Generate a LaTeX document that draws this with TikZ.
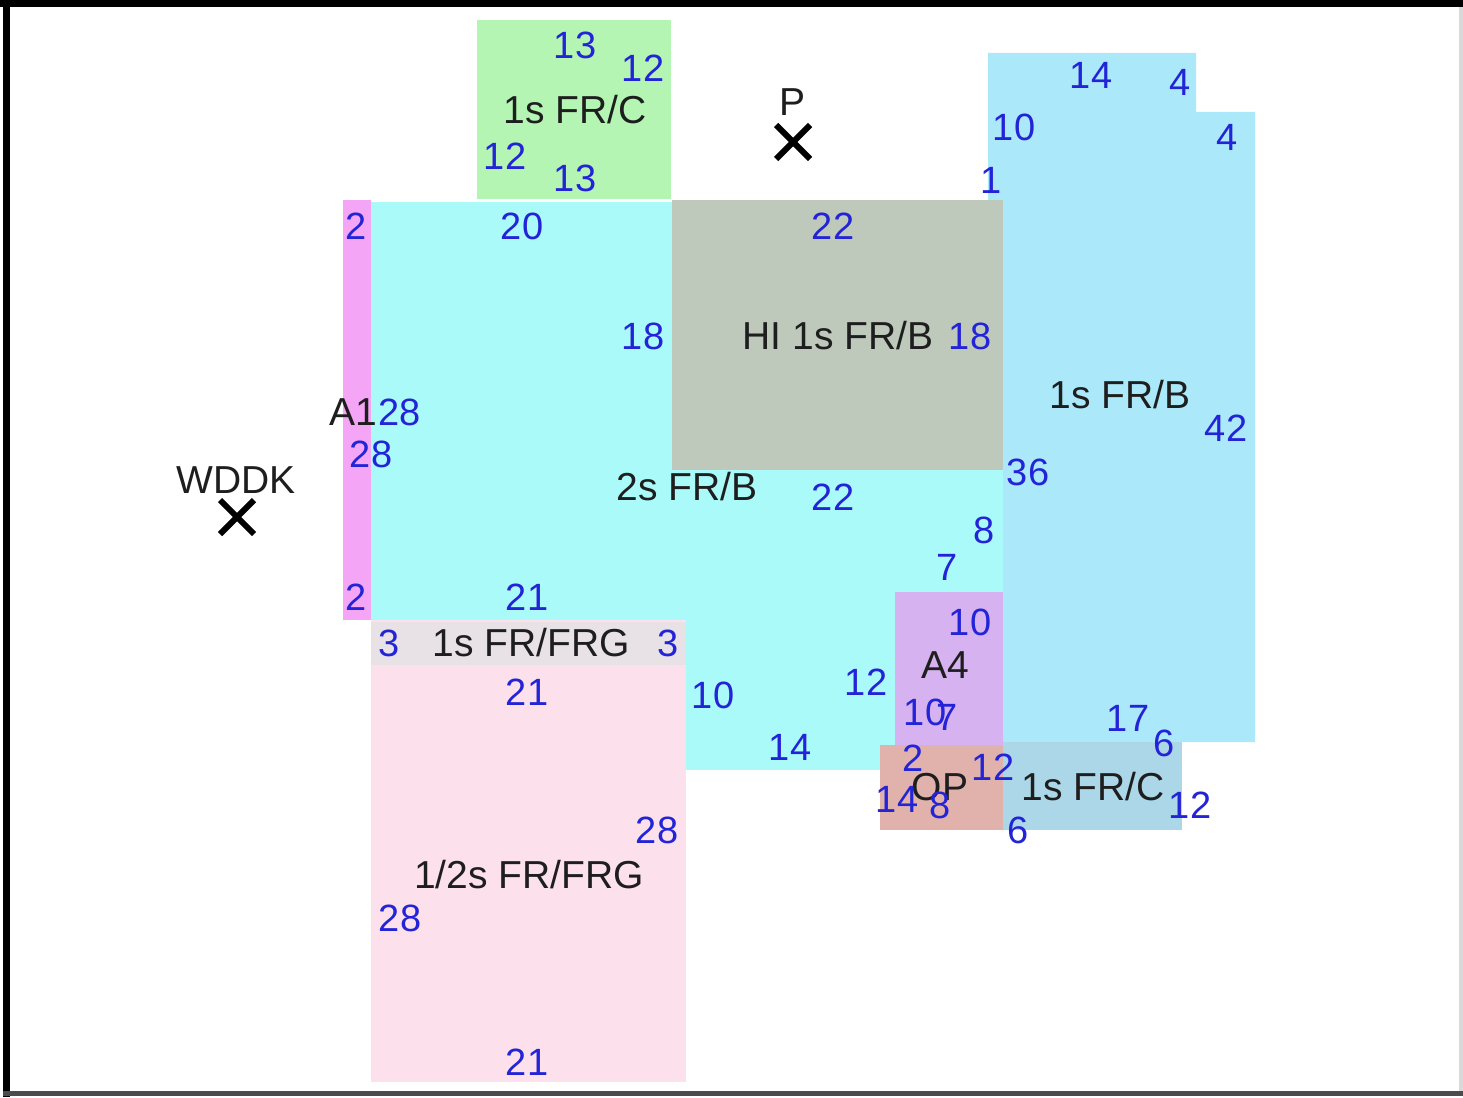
\documentclass[tikz,border=0pt]{standalone}
\usepackage{fontspec}
\setmainfont{Liberation Sans}
\definecolor{cGreen}{RGB}{180,245,180}
\definecolor{cCyan}{RGB}{170,250,250}
\definecolor{cBlue}{RGB}{170,232,250}
\definecolor{cHI}{RGB}{190,201,188}
\definecolor{cMag}{RGB}{245,165,245}
\definecolor{cStrip}{RGB}{232,226,230}
\definecolor{cPink}{RGB}{252,225,236}
\definecolor{cAfour}{RGB}{215,178,240}
\definecolor{cOP}{RGB}{225,178,172}
\definecolor{cFRC}{RGB}{172,215,232}
\definecolor{numc}{RGB}{35,35,215}
\definecolor{txtc}{RGB}{30,30,30}
\begin{document}
\begin{tikzpicture}[x=1pt,y=-1pt,
  num/.style={text=numc,inner sep=0pt,font=\fontsize{38}{40}\selectfont},
  lbl/.style={text=txtc,inner sep=0pt,font=\fontsize{39}{41}\selectfont},
  xmark/.style={line width=6pt,black}]
\useasboundingbox (0,0) rectangle (1463,1097);
\fill[white] (0,0) rectangle (1463,1097);
% frame
\fill[black] (0,0) rectangle (1463,7);
\fill[black] (3,0) rectangle (10,1097);
\fill[black!70] (3,1091) rectangle (1463,1096);
\fill[black!15] (1459,7) rectangle (1463,1091);
% areas
\fill[cCyan] (371,202) rectangle (1003,770);
\fill[cGreen] (477,20) rectangle (671,199);
\fill[cBlue] (988,53) -- (1196,53) -- (1196,112) -- (1255,112) -- (1255,742) -- (1003,742) -- (1003,200) -- (988,200) -- cycle;
\fill[cHI] (672,200) rectangle (1003,470);
\fill[cMag] (343,200) rectangle (371,620);
\fill[cPink] (371,620) rectangle (686,1082);
\fill[cStrip] (371,622) rectangle (686,665);
\fill[cAfour] (895,592) rectangle (1003,745);
\fill[cOP] (880,745) rectangle (1003,830);
\fill[cFRC] (1003,742) rectangle (1182,830);
% crosses
\coordinate (pc) at (793,142);
\coordinate (wc) at (237,517);
\draw[xmark] ([shift={(-17,-17)}]pc) -- ([shift={(17,17)}]pc);
\draw[xmark] ([shift={(-17,17)}]pc) -- ([shift={(17,-17)}]pc);
\draw[xmark] ([shift={(-17,-17)}]wc) -- ([shift={(17,17)}]wc);
\draw[xmark] ([shift={(-17,17)}]wc) -- ([shift={(17,-17)}]wc);
\node[lbl] (tp) at (792,102) {P};
\node[lbl] (twddk) at (236,480) {WDDK};
% green 1s FR/C
\node[lbl] (tfrc1) at (575,110) {1s FR/C};
\node[num] (n1) at (575,45) {13};
\node[num] (n2) at (643,68) {12};
\node[num] (n3) at (505,156) {12};
\node[num] (n4) at (575,178) {13};
% 2s FR/B
\node[lbl] (t2s) at (687,487) {2s FR/B};
\node[num] (n5) at (522,226) {20};
\node[num] (n6) at (643,336) {18};
\node[num] (n7) at (833,497) {22};
\node[num] (n8) at (984,530) {8};
\node[num] (n9) at (947,567) {7};
\node[num] (n10) at (527,597) {21};
\node[num] (n11) at (713,695) {10};
\node[num] (n12) at (866,682) {12};
\node[num] (n13) at (790,747) {14};
% HI
\node[lbl] (thi) at (838,336) {HI 1s FR/B};
\node[num] (n14) at (833,226) {22};
\node[num] (n15) at (970,336) {18};
% A1
\node[lbl,anchor=east] (ta1) at (377,412) {A1};
\node[num,anchor=west] (n17) at (378,412) {28};
\node[num] (n16) at (356,226) {2};
\node[num] (n18) at (371,454) {28};
\node[num] (n19) at (356,597) {2};
% right 1s FR/B
\node[lbl] (tfrb) at (1120,395) {1s FR/B};
\node[num] (n20) at (1091,75) {14};
\node[num] (n21) at (1180,82) {4};
\node[num] (n22) at (1014,127) {10};
\node[num] (n23) at (1227,137) {4};
\node[num] (n24) at (991,180) {1};
\node[num] (n25) at (1226,428) {42};
\node[num] (n26) at (1028,472) {36};
\node[num] (n27) at (1128,718) {17};
\node[num] (n28) at (1164,743) {6};
% 1s FR/FRG
\node[lbl] (tfrg) at (531,643) {1s FR/FRG};
\node[num] (n29) at (389,643) {3};
\node[num] (n30) at (668,643) {3};
\node[num] (n31) at (527,692) {21};
% 1/2s FR/FRG
\node[lbl] (thalf) at (529,875) {1/2s FR/FRG};
\node[num] (n32) at (657,830) {28};
\node[num] (n33) at (400,918) {28};
\node[num] (n34) at (527,1062) {21};
% A4
\node[lbl] (ta4) at (945,665) {A4};
\node[num] (n35) at (970,622) {10};
\node[num] (n36) at (925,712) {10};
\node[num] (n37) at (947,717) {7};
% OP
\node[lbl] (top) at (940,787) {OP};
\node[num] (n38) at (913,758) {2};
\node[num] (n39) at (993,767) {12};
\node[num] (n40) at (897,799) {14};
\node[num] (n41) at (940,805) {8};
% bottom 1s FR/C
\node[lbl] (tfrc2) at (1093,787) {1s FR/C};
\node[num] (n42) at (1190,805) {12};
\node[num] (n43) at (1018,830) {6};
\end{tikzpicture}
\end{document}
